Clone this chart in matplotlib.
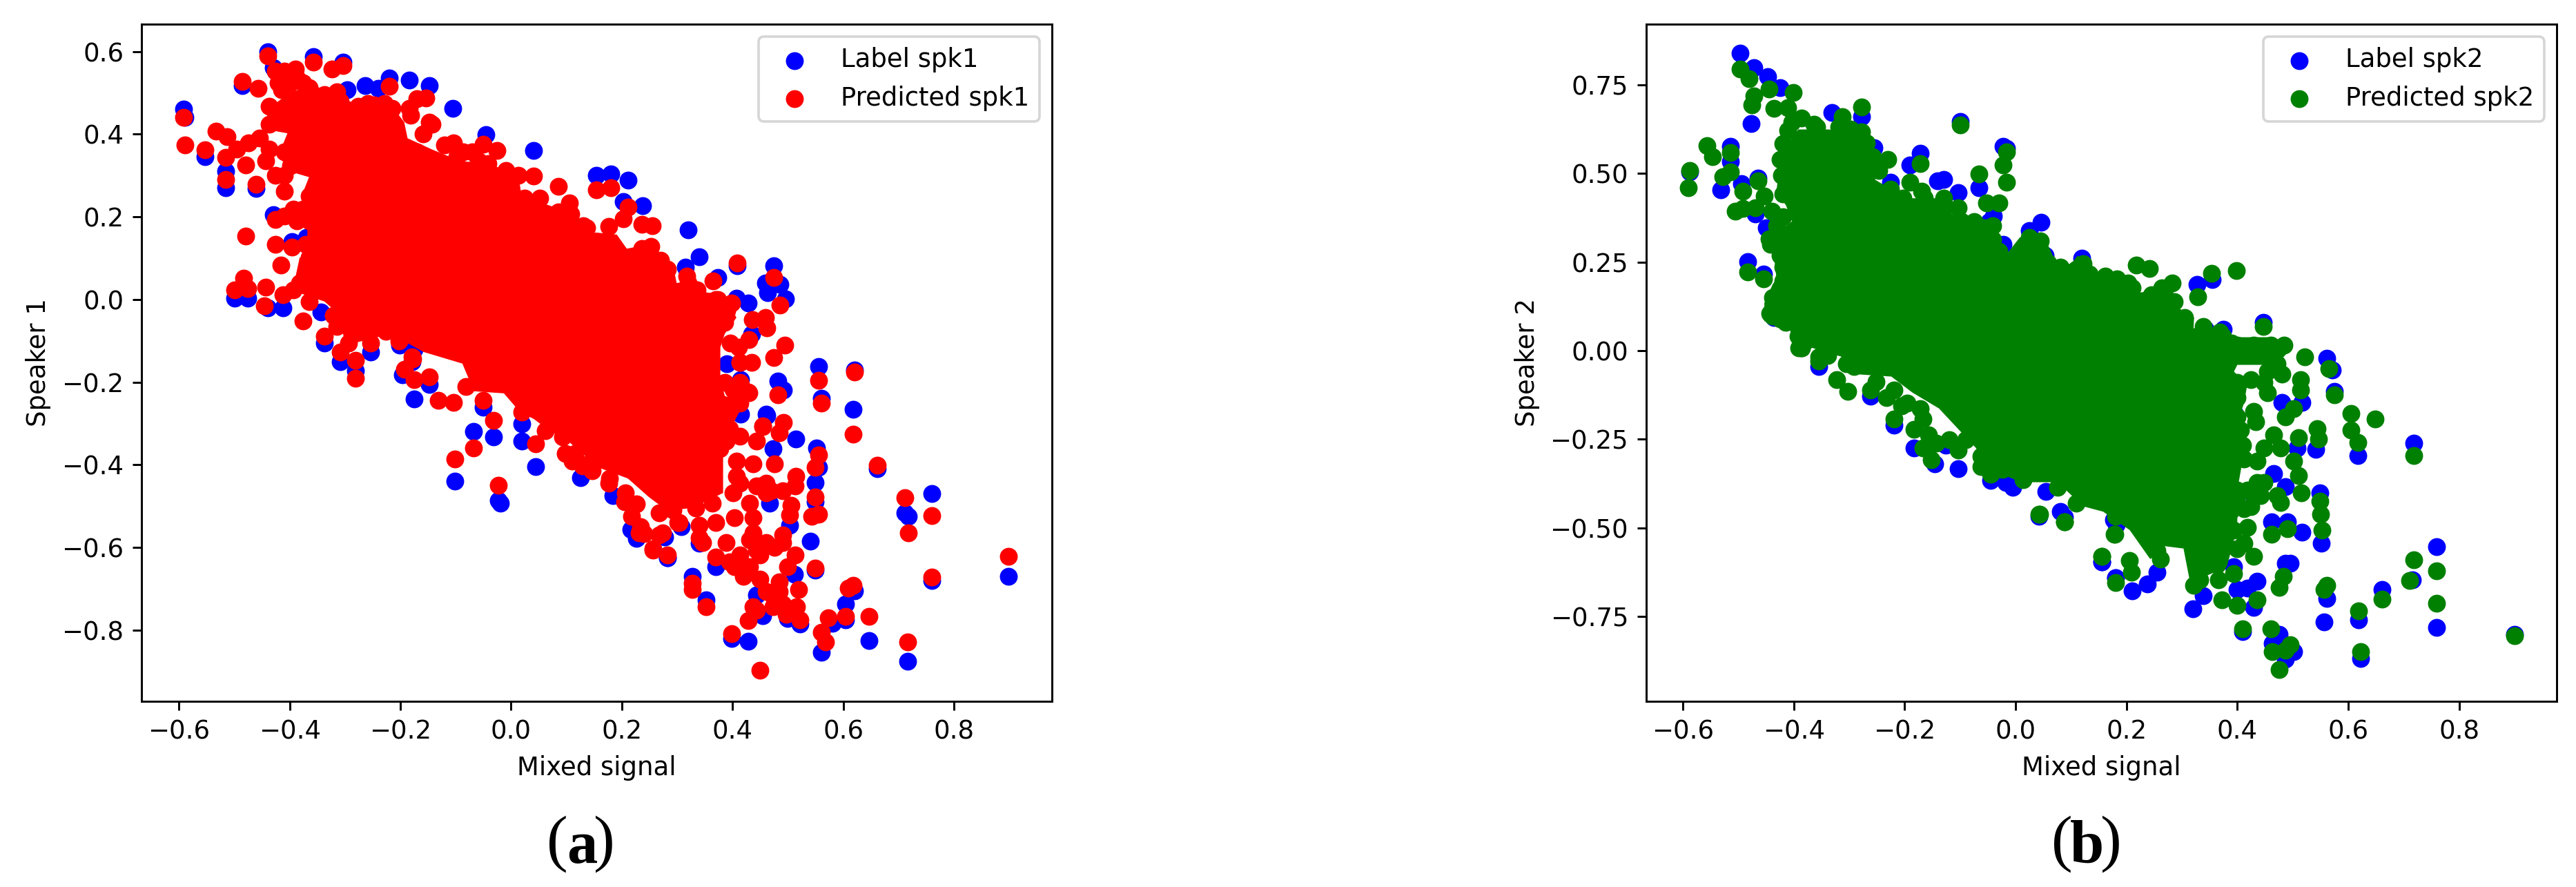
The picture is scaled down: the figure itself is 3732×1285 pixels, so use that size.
import matplotlib

matplotlib.use("Agg")
import matplotlib.pyplot as plt
import numpy as np

W, H = 3732, 1285
DPI = 266

# (mixed signal, speaker value), outer points only
label_spk1 = np.array([
    [-.439, .599], [-.357, .588], [-.303, .574], [-.486, .518], [-.220, .535], [-.263, .518],
    [-.240, .510], [-.184, .530], [-.148, .518], [-.296, .507], [-.105, .463], [.041, .360],
    [-.045, .399], [-.592, .460], [-.589, .440], [-.553, .345], [-.515, .271], [-.515, .310],
    [-.460, .268], [-.426, .552], [-.430, .560], [-.430, .205], [-.396, .140], [-.370, .150],
    [-.499, .003], [-.475, .003], [-.412, -.020], [-.440, -.020], [-.343, -.030], [-.337, -.105],
    [-.309, -.150], [-.201, -.110], [-.175, -.120], [-.179, -.150], [.154, .301], [.180, .304],
    [.211, .289], [.203, .237], [.238, .227], [.320, .169], [.340, .103], [.315, .079],
    [.409, .082], [.475, .081], [.459, .040], [.486, .037], [.463, .017], [.496, .001],
    [.374, .054], [.428, -.008], [.407, .003], [.434, -.083], [.390, -.155], [.555, -.162],
    [.621, -.170], [.482, -.197], [.492, -.219], [.561, -.239], [.618, -.265], [.415, -.194],
    [.415, -.277], [.462, -.280], [.461, -.278], [.515, -.337], [.473, -.361], [.552, -.360],
    [.555, -.406], [.549, -.442], [.549, -.490], [.661, -.410], [.711, -.516], [.718, -.525],
    [.760, -.470], [.899, -.670], [.760, -.680], [.541, -.585], [.549, -.655], [.503, -.546],
    [.467, -.492], [.340, -.590], [.225, -.560], [.283, -.625], [.278, -.575], [.370, -.647],
    [.327, -.670], [.352, -.727], [.443, -.715], [.455, -.765], [.500, -.772], [.522, -.785],
    [.512, -.665], [.580, -.783], [.561, -.853], [.604, -.775], [.604, -.737], [.620, -.705],
    [.647, -.825], [.717, -.875], [.399, -.820], [.428, -.826], [-.281, -.172], [-.254, -.127],
    [-.196, -.183], [-.175, -.240], [-.148, -.205], [-.050, -.261], [-.068, -.319], [-.032, -.333],
    [-.101, -.439], [-.023, -.486], [-.019, -.492], [.020, -.300], [.020, -.342], [.044, -.404],
    [.126, -.431], [.184, -.475], [.216, -.556], [.226, -.578], [.307, -.550], [.283, -.625],
])
pred_spk1 = np.array([
    [-.439, .589], [-.357, .574], [-.303, .566], [-.323, .557], [-.486, .527], [-.220, .516],
    [-.426, .552], [-.390, .557], [-.592, .441], [-.589, .374], [-.533, .407], [-.513, .393],
    [-.553, .362], [-.515, .343], [-.474, .379], [-.515, .290], [-.479, .326], [-.460, .279],
    [-.443, .335], [-.410, .262], [-.426, .301], [-.479, .154], [-.426, .193], [-.426, .134],
    [-.396, .126], [-.371, .134], [-.416, .084], [-.483, .051], [-.499, .023], [-.476, .026],
    [-.446, -.016], [-.443, .029], [-.412, .012], [-.376, -.052], [-.321, -.038], [-.337, -.088],
    [-.309, -.127], [-.201, -.097], [-.179, -.138], [-.457, .510], [-.415, .507], [-.376, .524],
    [-.315, .502], [-.259, .474], [-.229, .474], [-.170, .485], [-.154, .488], [-.184, .463],
    [-.148, .429], [-.159, .401], [-.170, .357], [-.120, .374], [-.104, .379], [-.087, .357],
    [-.051, .376], [-.026, .360], [-.009, .312], [.041, .299], [.086, .274], [.105, .234],
    [.130, .179], [.154, .266], [.180, .271], [.211, .223], [.203, .195], [.236, .182],
    [.255, .179], [.177, .176], [.137, .173], [.318, .056], [.409, .088], [.475, .054],
    [.486, -.013], [.365, .045], [.374, .000], [.399, -.008], [.436, -.049], [.459, -.044],
    [.462, -.069], [.430, -.097], [.396, -.105], [.411, -.116], [.414, -.153], [.434, -.153],
    [.495, -.110], [.475, -.141], [.555, -.196], [.621, -.176], [.482, -.230], [.561, -.250],
    [.415, -.205], [.430, -.225], [.413, -.250], [.455, -.305], [.492, -.297], [.413, -.152],
    [.428, -.224], [.413, -.200], [.618, -.325], [.443, -.343], [.455, -.307], [.485, -.322],
    [.555, -.376], [.549, -.406], [.549, -.477], [.543, -.525], [.555, -.519], [.661, -.401],
    [.711, -.480], [.718, -.564], [.760, -.523], [.899, -.621], [.760, -.671], [.549, -.649],
    [.437, -.397], [.476, -.397], [.515, -.427], [.513, -.451], [.470, -.462], [.443, -.451],
    [.506, -.498], [.503, -.522], [.491, -.570], [.437, -.528], [.431, -.582], [.404, -.528],
    [.340, -.576], [.304, -.540], [.268, -.570], [.231, -.564], [.256, -.606], [.283, -.618],
    [.370, -.623], [.404, -.647], [.449, -.618], [.449, -.677], [.420, -.670], [.513, -.618],
    [.500, -.647], [.491, -.588], [.519, -.701], [.485, -.683], [.327, -.686], [.328, -.701],
    [.352, -.743], [.443, -.752], [.428, -.776], [.476, -.725], [.497, -.761], [.522, -.775],
    [.516, -.743], [.573, -.770], [.561, -.805], [.568, -.829], [.604, -.767], [.609, -.698],
    [.618, -.692], [.647, -.767], [.717, -.829], [.399, -.808], [.449, -.897], [-.281, -.191],
    [-.281, -.147], [-.202, -.100], [-.177, -.144], [-.192, -.169], [-.175, -.194], [-.148, -.188],
    [-.132, -.244], [-.104, -.249], [-.082, -.211], [-.050, -.244], [-.032, -.293], [-.068, -.360],
    [-.101, -.386], [-.023, -.449], [.020, -.272], [.044, -.350], [.062, -.317], [.093, -.333],
    [.116, -.372], [.132, -.400], [.178, -.433], [.205, -.489], [.226, -.495], [.218, -.525],
    [.234, -.550], [.240, -.567], [.274, -.564], [.256, -.603], [.301, -.539],
    # round the edge of the centre
    [-.496, .363], [-.454, .390], [-.437, .363], [-.410, .357], [-.398, .324], [-.410, .301],
    [-.421, .524], [-.398, .524], [-.365, .513], [-.437, .468], [-.426, .452], [-.437, .424],
    [-.410, .552], [-.387, .535], [-.337, .496], [-.309, .479], [-.276, .468], [-.248, .471],
    [-.215, .463], [-.181, .446], [-.143, .424], [-.365, .251], [-.376, .218], [-.393, .218],
    [-.365, .190], [-.387, .190], [-.410, .201], [-.360, .134], [-.365, .101], [-.371, .062],
    [-.382, .040], [-.393, .023], [-.365, -.005], [-.343, .023], [-.315, -.066], [-.293, -.105],
    [-.254, -.105], [-.226, -.077], [-.098, .346], [-.070, .357], [-.059, .335], [-.042, .329],
    [.013, .301], [-.003, .290], [.025, .246], [.052, .246], [.086, .212], [.108, .207],
    [.236, .123], [.253, .129], [.270, .095], [.282, .073], [.320, .040], [.336, .023],
    [.370, .000], [.390, -.027], [.386, -.055], [.386, -.200], [.403, -.222], [.386, -.255],
    [.407, -.250], [.401, -.218], [.395, -.260], [.395, -.313], [.413, -.331], [.389, -.343],
    [.377, -.361], [.407, -.391], [.407, -.427], [.413, -.445], [.401, -.468], [.364, -.492],
    [.334, -.504], [.292, -.510], [.431, -.492], [.437, -.564], [.370, -.540], [.340, -.546],
    [.346, -.588], [.389, -.588], [.413, -.618], [.395, -.635], [.431, -.647], [.443, -.606],
    [.461, -.588], [.476, -.600], [.461, -.445], [.491, -.462], [.449, -.451], [.461, -.468],
    [.129, -.403], [.147, -.415], [.177, -.445], [.207, -.468], [.098, -.373], [.110, -.391],
    [.268, -.516], [.461, -.707], [.473, -.743], [.485, -.707], [.491, -.737], [.437, -.743],
])
# outline of the saturated centre, where single points can no longer be told apart
core_spk1 = np.array([
    [-.432, .468], [-.398, .502], [-.354, .518], [-.330, .500], [-.309, .485], [-.276, .474],
    [-.209, .457], [-.193, .429], [-.187, .390], [-.143, .363], [-.092, .335], [-.042, .329],
    [.013, .301], [.019, .251], [.102, .212], [.141, .157], [.153, .162], [.191, .157],
    [.209, .123], [.253, .134], [.278, .101], [.295, .067], [.299, .040], [.336, .045],
    [.353, .017], [.386, .012], [.407, -.044], [.386, -.083], [.378, -.116], [.378, -.194],
    [.386, -.233], [.419, -.255], [.401, -.301], [.383, -.373], [.383, -.468], [.328, -.504],
    [.282, -.511], [.249, -.478], [.211, -.433], [.157, -.406], [.095, -.333], [.074, -.322],
    [.041, -.289], [.016, -.272], [-.013, -.227], [-.067, -.222], [-.088, -.155], [-.158, -.127],
    [-.217, -.083], [-.300, -.111], [-.309, -.038], [-.337, -.005], [-.398, .023], [-.390, .051],
    [-.382, .101], [-.368, .112], [-.368, .157], [-.368, .246], [-.375, .262], [-.365, .296],
    [-.393, .307], [-.421, .346], [-.404, .402], [-.449, .413],
])

label_spk2 = np.array([
    [-.497, .839], [-.472, .798], [-.447, .774], [-.425, .741], [-.477, .641], [-.331, .671],
    [-.278, .660], [-.100, .647], [-.514, .576], [-.514, .534], [-.587, .505], [-.531, .453],
    [-.464, .487], [-.494, .472], [-.469, .385], [-.450, .346], [-.255, .573], [-.172, .556],
    [-.191, .524], [-.225, .475], [-.141, .479], [-.130, .482], [-.103, .446], [-.023, .576],
    [-.016, .570], [-.066, .459], [-.040, .380], [-.047, .365], [.046, .362], [.025, .339],
    [-.022, .300], [.053, .268], [.120, .261], [-.483, .252], [-.454, .216], [-.436, .093],
    [.447, .080], [.561, -.022], [.572, -.055], [.575, -.115], [.481, -.145], [.517, -.145],
    [.541, -.279], [.508, -.275], [.466, -.346], [.487, -.383], [.430, -.409], [.549, -.401],
    [.552, -.543], [.462, -.483], [.490, -.483], [.517, -.512], [.718, -.260], [.618, -.296],
    [.760, -.553], [.716, -.647], [.760, -.781], [.900, -.800], [.487, -.599], [.496, -.599],
    [.561, -.699], [.556, -.765], [.619, -.760], [.661, -.673], [.622, -.869], [.436, -.651],
    [.400, -.673], [.418, -.670], [.339, -.692], [.320, -.729], [.430, -.725], [.410, -.793],
    [.475, -.800], [.463, -.826], [.487, -.871], [.502, -.848], [.394, -.610], [.155, -.595],
    [.181, -.640], [.211, -.677], [.238, -.658], [.255, -.625], [.182, -.491], [.089, -.470],
    [.055, -.398], [-.355, -.044], [-.262, -.129], [-.219, -.211], [-.183, -.275], [-.146, -.319],
    [-.103, -.332], [-.126, -.267], [-.045, -.365], [-.005, -.386], [-.017, -.371], [.042, -.468],
    [.081, -.453], [.177, -.476], [.155, -.595], [.181, -.640], [.396, -.180], [.342, .060],
    [.375, .060], [.355, .200], [.328, .187],
])
pred_spk2 = np.array([
    [-.497, .795], [-.481, .768], [-.445, .738], [-.401, .728], [-.472, .719], [-.475, .693],
    [-.436, .683], [-.411, .686], [-.386, .657], [-.312, .660], [-.278, .687], [-.278, .618],
    [-.411, .621], [-.358, .631], [-.414, .579], [-.100, .637], [-.557, .579], [-.547, .547],
    [-.514, .558], [-.514, .504], [-.528, .491], [-.587, .508], [-.590, .459], [-.464, .479],
    [-.492, .449], [-.453, .436], [-.506, .394], [-.492, .401], [-.469, .404], [-.439, .394],
    [-.422, .495], [-.425, .540], [-.389, .527], [-.230, .540], [-.172, .527], [-.191, .475],
    [-.169, .449], [-.103, .404], [-.130, .430], [-.016, .560], [-.023, .524], [-.016, .475],
    [-.066, .498], [-.052, .417], [-.030, .417], [-.069, .352], [-.047, .346], [.025, .320],
    [.045, .310], [.059, .248], [.122, .245], [.164, .203], [-.483, .222], [-.454, .203],
    [-.444, .316], [-.431, .352], [-.419, .235], [-.431, .106], [-.386, .008], [-.355, -.018],
    [.183, .203], [.218, .242], [.241, .232], [.282, .190], [.264, .177], [.210, .177],
    [.353, .219], [.329, .151], [.398, .226], [.305, .093], [.344, .041], [.373, .041],
    [.398, .002], [.447, .068], [.484, .016], [.522, -.018], [.481, -.066], [.514, -.081],
    [.514, -.111], [.454, -.118], [.565, -.051], [.575, -.125], [.605, -.178], [.648, -.193],
    [.605, -.223], [.618, -.258], [.502, -.163], [.487, -.186], [.430, -.171], [.433, -.200],
    [.511, -.245], [.544, -.219], [.547, -.249], [.466, -.238], [.478, -.275], [.409, -.267],
    [.448, -.275], [.436, -.312], [.502, -.312], [.511, -.353], [.516, -.401], [.436, -.372],
    [.400, -.409], [.472, -.409], [.478, -.428], [.424, -.439], [.549, -.424], [.550, -.461],
    [.553, -.506], [.462, -.517], [.490, -.502], [.418, -.498], [.412, -.543], [.430, -.580],
    [.718, -.296], [.760, -.621], [.718, -.590], [.711, -.649], [.760, -.713], [.900, -.804],
    [.483, -.636], [.476, -.668], [.561, -.662], [.556, -.673], [.619, -.733], [.661, -.701],
    [.622, -.848], [.436, -.703], [.400, -.719], [.372, -.703], [.410, -.784], [.460, -.785],
    [.496, -.830], [.487, -.845], [.463, -.848], [.476, -.899], [.394, -.629], [.366, -.647],
    [.321, -.662], [.155, -.580], [.181, -.655], [.205, -.591], [.209, -.625], [.261, -.588],
    [.255, -.565], [.178, -.517], [.089, -.483], [.043, -.461], [-.355, -.029], [-.322, -.081],
    [-.302, -.114], [-.262, -.111], [-.233, -.133], [-.219, -.193], [-.183, -.222], [-.205, -.155],
    [-.172, -.163], [-.167, -.275], [-.152, -.308], [-.103, -.280], [-.143, -.260], [-.045, -.349],
    [.042, -.461], [.088, -.483], [.179, -.517], [.155, -.580], [-.386, .008], [-.438, .098],
    [-.424, .090],
    # round the edge of the centre
    [.339, .068], [.369, .053], [.400, .016], [.430, .016], [.460, .016], [.460, -.022],
    [.454, -.059], [.472, -.037], [.448, -.089], [.424, -.081], [.400, -.089], [.400, -.133],
    [.400, -.186], [.394, -.230], [.406, -.223], [.375, -.208], [.412, -.305], [.418, -.394],
    [.400, -.394], [.448, -.372], [.412, -.446], [.387, -.454], [.394, -.506], [.400, -.558],
    [.363, -.603], [.333, -.647], [.442, -.409], [-.054, .346], [.025, .287], [.046, .274],
    [.091, .222], [.133, .216], [.162, .210], [.203, .190], [.245, .157], [.266, .145],
    [.286, .138], [.328, .041], [.349, .028], [.390, .021], [.403, .002], [.369, -.024],
    [.386, -.089], [.378, -.141], [.390, -.186], [-.403, .644], [-.364, .638], [-.319, .631],
    [-.297, .625], [-.269, .586], [-.258, .547], [-.247, .508], [-.225, .456], [-.203, .430],
    [-.164, .430], [-.130, .404], [-.097, .365], [-.075, .365], [-.041, .352], [-.041, .313],
    [-.030, .281], [.025, .268], [.081, .235], [.109, .229], [-.419, .585], [-.419, .443],
    [-.403, .456], [-.419, .378], [-.442, .300], [-.425, .268], [-.419, .197], [-.436, .138],
    [-.414, .080], [-.392, .041], [-.342, -.011], [-.438, .150], [-.443, .105], [-.424, .098],
    [-.391, .061], [-.391, .008], [-.338, -.014], [-.305, -.036], [-.291, -.044], [-.252, -.088],
    [-.219, -.111], [-.195, -.148], [-.167, -.193], [-.157, -.237], [-.119, -.252], [-.090, -.252],
    [-.062, -.297], [-.062, -.327], [-.024, -.334], [.014, -.364], [.076, -.386], [.110, -.431],
    [.181, -.468],
])
core_spk2 = np.array([
    [-.392, .624], [-.336, .624], [-.275, .599], [-.253, .534], [-.253, .482], [-.197, .430],
    [-.141, .430], [-.119, .391], [-.097, .365], [-.033, .365], [-.033, .326], [-.015, .274],
    [.008, .320], [.058, .300], [.075, .242], [.099, .242], [.112, .268], [.158, .209],
    [.203, .209], [.224, .164], [.286, .177], [.282, .132], [.322, .093], [.321, .060],
    [.369, .047], [.400, .038], [.460, .038], [.500, .010], [.470, -.040], [.400, -.040],
    [.394, -.059], [.418, -.096], [.412, -.148], [.395, -.230], [.410, -.305], [.400, -.394],
    [.400, -.498], [.390, -.558], [.381, -.610], [.315, -.655], [.303, -.558], [.267, -.551],
    [.243, -.588], [.206, -.506], [.158, -.454], [.122, -.439], [.076, -.371], [.010, -.371],
    [-.024, -.349], [-.057, -.342], [-.071, -.275], [-.138, -.163], [-.186, -.118], [-.224, -.073],
    [-.291, -.066], [-.305, -.021], [-.338, -.006], [-.367, .008], [-.386, -.014], [-.400, .038],
    [-.405, .083], [-.453, .083], [-.453, .135], [-.438, .187], [-.431, .203], [-.436, .274],
    [-.436, .326], [-.403, .365], [-.414, .410], [-.431, .449], [-.425, .547],
])

x_ticks = [-0.6, -0.4, -0.2, 0.0, 0.2, 0.4, 0.6, 0.8]
spk1_ticks = [0.6, 0.4, 0.2, 0.0, -0.2, -0.4, -0.6, -0.8]
spk2_ticks = [0.75, 0.50, 0.25, 0.0, -0.25, -0.50, -0.75]


def add_panel(fig, box, label, pred, core, color, name, ylabel, xlim, ylim, yticks, yfmt):
    left, right, top, bottom = box
    ax = fig.add_axes([left / W, 1 - bottom / H, (right - left) / W, (bottom - top) / H])
    ax.scatter(label[:, 0], label[:, 1], color="blue", label="Label " + name, zorder=2)
    ax.scatter(pred[:, 0], pred[:, 1], color=color, label="Predicted " + name, zorder=3)
    ax.fill(core[:, 0], core[:, 1], color=color, linewidth=0, zorder=3)
    ax.set_xlim(xlim)
    ax.set_ylim(ylim)
    ax.set_xticks(x_ticks)
    ax.set_yticks(yticks)
    ax.set_yticklabels([yfmt.format(v).replace("-", "\u2212") for v in yticks])
    ax.set_xlabel("Mixed signal")
    ax.set_ylabel(ylabel)
    ax.legend(loc="upper right")
    return ax


def caption(fig, letter, x_left, x_mid, x_right):
    y = 1 - 1223 / H
    serif = "Liberation Serif"
    fig.text(x_left / W, y, "(", family=serif, size=25, ha="center", va="center")
    fig.text(x_mid / W, y - 0.004, letter, family=serif, size=24, weight="bold", ha="center", va="center")
    fig.text(x_right / W, y, ")", family=serif, size=25, ha="center", va="center")


fig = plt.figure(figsize=(W / DPI, H / DPI), dpi=DPI)
add_panel(fig, (205, 1524, 35, 1016), label_spk1, pred_spk1, core_spk1, "red", "spk1",
          "Speaker 1", (-0.6676, 0.977), (-0.972, 0.666), spk1_ticks, "{:.1f}")
add_panel(fig, (2385, 3704, 35, 1016), label_spk2, pred_spk2, core_spk2, "green", "spk2",
          "Speaker 2", (-0.666, 0.976), (-0.989, 0.921), spk2_ticks, "{:.2f}")
caption(fig, "a", 807, 843, 875)
caption(fig, "b", 2987, 3023, 3058)
fig.savefig("out.png", dpi=DPI)
